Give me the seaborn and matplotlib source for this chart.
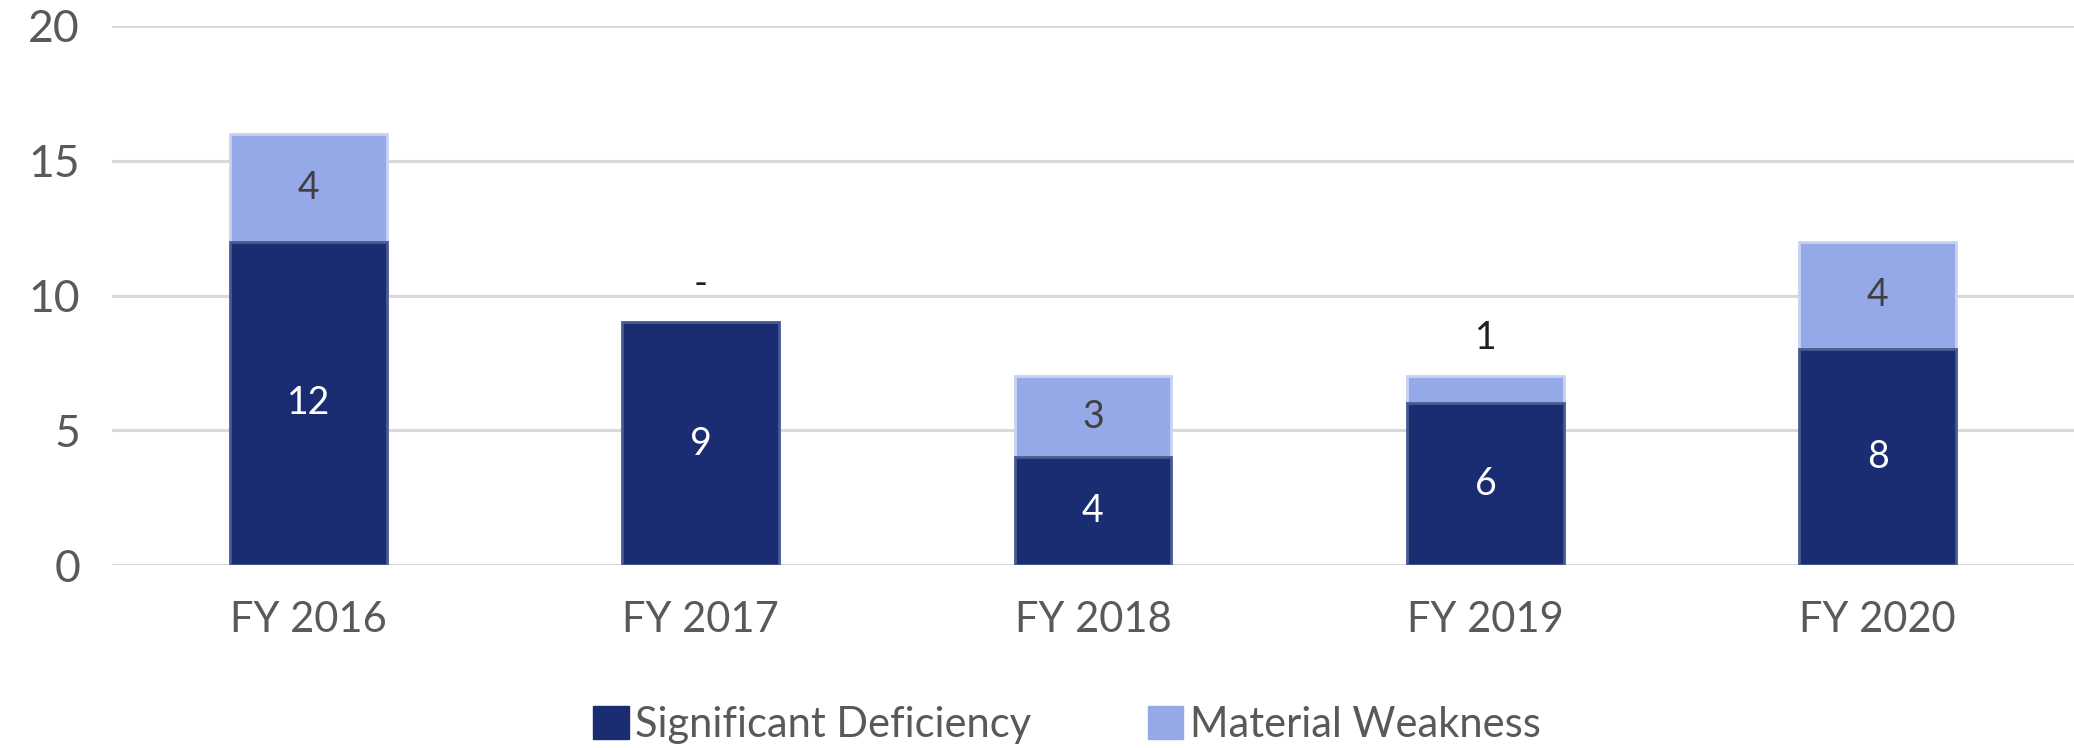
"""
Stacked bar chart of control deficiencies by fiscal year.
"""

import numpy as np
import pandas as pd
import matplotlib
matplotlib.use("Agg")
import matplotlib.pyplot as plt
from matplotlib.patches import Patch
import seaborn as sns

# chart data
years = ["FY 2016", "FY 2017", "FY 2018", "FY 2019", "FY 2020"]
significant_deficiency = [12, 9, 4, 6, 8]
material_weakness = [4, 0, 3, 1, 4]
yticks = [0, 5, 10, 15, 20]

DARK = "#1a2d73"
LIGHT = "#95a8e8"


def build_df():
    """Returns dataframe with one row per fiscal year"""
    df = pd.DataFrame({"Year": years,
                       "Significant Deficiency": significant_deficiency,
                       "Material Weakness": material_weakness})
    df["Total"] = df["Significant Deficiency"] + df["Material Weakness"]
    return df


def create_plot(df):
    sns.set_style("white")
    plt.rcParams["font.family"] = ["Lato", "DejaVu Sans"]

    fig = plt.figure(figsize=(20.74, 7.48), dpi=100)
    ax = fig.add_axes([112 / 2074, 1 - 565 / 748, 1 - 112 / 2074,
                       (565 - 26) / 748])

    # total bar first (light), then the bottom part on top of it (dark)
    sns.barplot(data=df, x="Year", y="Total", color=LIGHT, saturation=1,
                width=0.40, edgecolor="#c8d2f3", linewidth=2, ax=ax)
    sns.barplot(data=df, x="Year", y="Significant Deficiency", color=DARK,
                saturation=1, width=0.40, edgecolor="#4a5a92", linewidth=2,
                ax=ax)

    # value labels
    for i, row in df.iterrows():
        sd = row["Significant Deficiency"]
        mw = row["Material Weakness"]
        ax.text(i, sd / 2, str(sd), ha="center", va="center",
                color="white", fontsize=27)
        if mw >= 2:
            ax.text(i, sd + mw / 2, str(mw), ha="center", va="center",
                    color="#404040", fontsize=27)
        else:
            label = str(mw) if mw > 0 else "-"
            ax.annotate(label, (i, row["Total"]), xytext=(0, 15),
                        textcoords="offset points", ha="center",
                        va="bottom", color="#202020", fontsize=27)

    ax.set_ylim(0, 20)
    ax.set_xlim(-0.5, 4.5)
    ax.set_yticks(yticks)
    ax.yaxis.grid(True, color="#d9d9d9", linewidth=2.2)
    ax.set_axisbelow(True)
    ax.set_xlabel("")
    ax.set_ylabel("")
    sns.despine(ax=ax, left=True, bottom=True)
    ax.tick_params(axis="y", length=0, pad=23, labelsize=32,
                   labelcolor="#595959")
    ax.tick_params(axis="x", length=0, pad=26, labelsize=30,
                   labelcolor="#595959")

    handles = [Patch(color=DARK, label="Significant Deficiency"),
               Patch(color=LIGHT, label="Material Weakness")]
    leg = fig.legend(handles=handles, loc="center",
                     bbox_to_anchor=(1067 / 2074, 0.031), ncol=2,
                     frameon=False, fontsize=30, handlelength=0.85,
                     handleheight=0.85, handletextpad=0.15, columnspacing=2.8)
    for t in leg.get_texts():
        t.set_color("#595959")

    fig.savefig("out.png", dpi=100)


if __name__ == "__main__":
    data = build_df()
    create_plot(data)
